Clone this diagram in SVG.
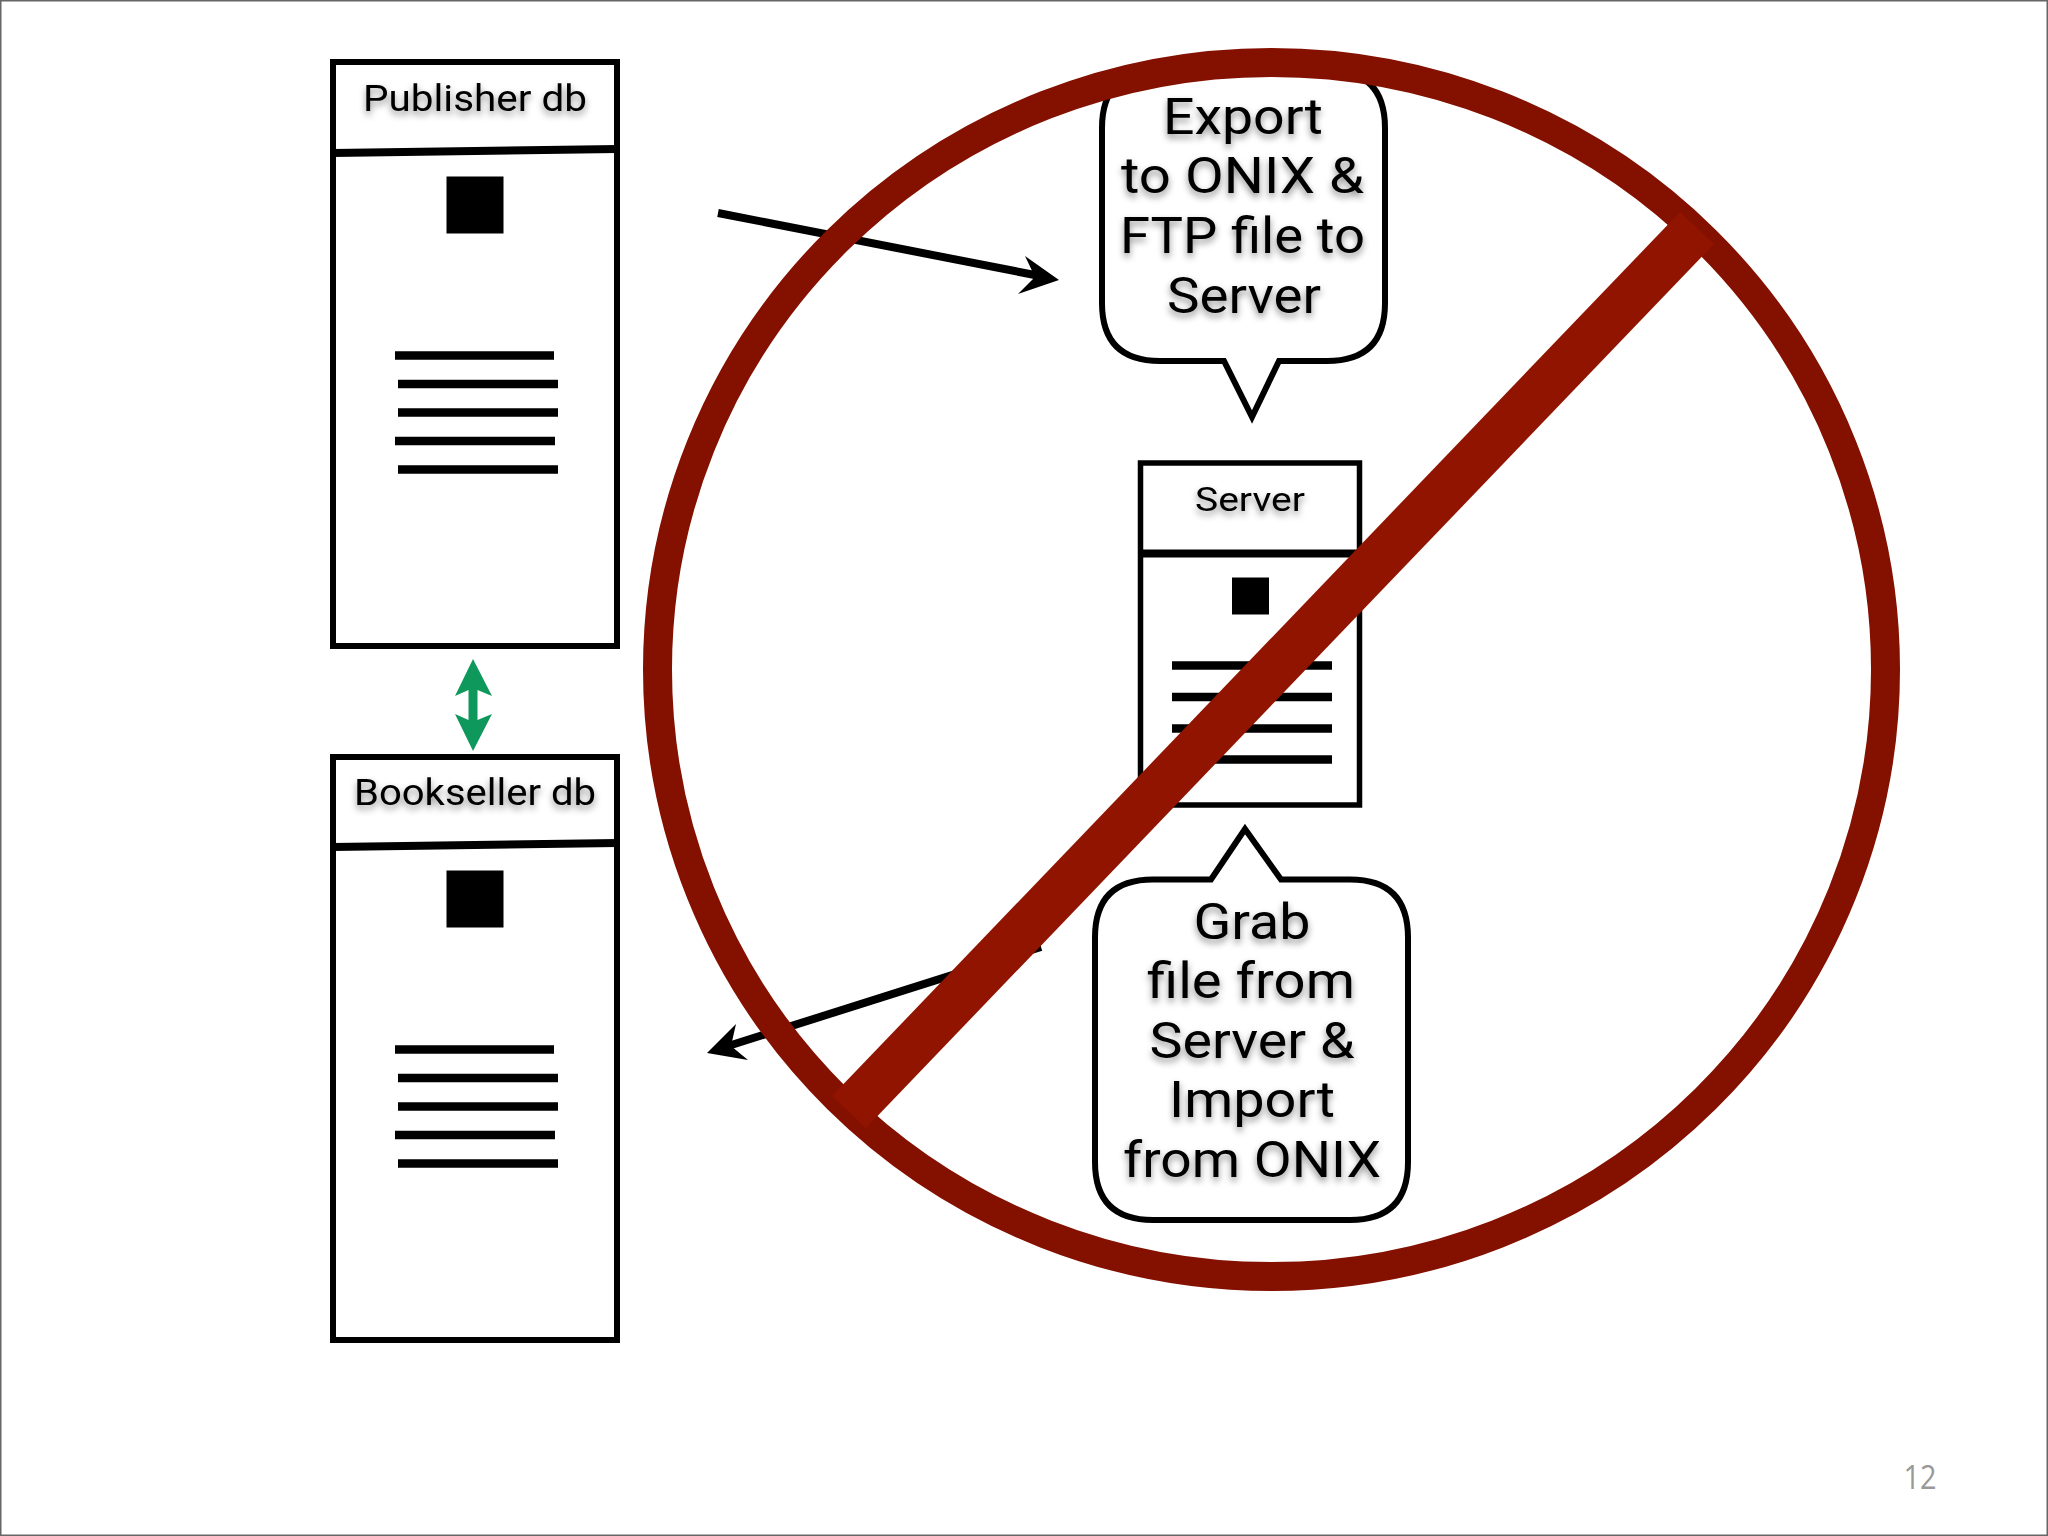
<svg xmlns="http://www.w3.org/2000/svg" width="2048" height="1536" viewBox="0 0 2048 1536">
<defs>
<style>
.box{fill:#fff;stroke:#000;stroke-width:6}
.div{stroke:#000;fill:none;stroke-width:8}
.bar{stroke:#000;stroke-width:8.500;fill:none}
.t{font-family:Roboto,"Open Sans","Liberation Sans",sans-serif;text-anchor:middle;fill:#000;filter:url(#sh)}
.big{font-size:50px}
.sm{font-size:36px}
.bub{fill:#fff;stroke:#000;stroke-width:6;stroke-linejoin:miter}
.arr{stroke:#000;stroke-width:8;fill:none}
</style>
<filter id="sh" x="-20%" y="-40%" width="140%" height="190%"><feDropShadow dx="0" dy="4" stdDeviation="3.500" flood-color="#000" flood-opacity="0.45"/></filter>
</defs>
<rect id="page" x="0.750" y="0.750" width="2046.500" height="1534.500" fill="#fff" stroke="#666" stroke-width="1.500"/>
<g id="publisher-db">
<rect class="box" x="333" y="62" width="284" height="584"/>
<path class="div" d="M333 153L617 149"/>
<rect x="446.500" y="176.500" width="57" height="57"/>
<path class="bar" d="M395 355.500H554M398 384H558M398 412.500H558M395 441H555M398 469.500H558"/>
<text class="t sm" x="475" y="111" textLength="224" lengthAdjust="spacingAndGlyphs">Publisher db</text>
</g>
<g id="bookseller-db">
<rect class="box" x="333" y="757" width="284" height="583"/>
<path class="div" d="M333 847L617 843"/>
<rect x="446.500" y="870.500" width="57" height="57"/>
<path class="bar" d="M395 1049.500H554M398 1078H558M398 1106.500H558M395 1135H555M398 1163.500H558"/>
<text class="t sm" x="475" y="805" textLength="242" lengthAdjust="spacingAndGlyphs">Bookseller db</text>
</g>
<g id="server">
<rect class="box" x="1140.500" y="463" width="219" height="342" style="stroke-width:5.500"/>
<path class="div" d="M1140 553.500H1360"/>
<rect x="1232" y="577.500" width="37" height="37"/>
<path class="bar" d="M1172 665.500H1332M1172 697H1332M1172 728.500H1332M1172 759.500H1332"/>
<text class="t" font-size="34" x="1250" y="511" textLength="110" lengthAdjust="spacingAndGlyphs">Server</text>
</g>
<g id="connectors">
<path class="arr" d="M718 213L1040 276"/>
<path d="M1059 280L1018 294L1035 277L1025 256Z" fill="#000"/>
<path class="arr" d="M1041 947L725 1047"/>
<path d="M707 1053L736 1024L731 1046L748 1060Z" fill="#000"/>
<path d="M473 659L492 696L477.500 690V720L492 714L473 751L455 714L468.500 720V690L455 696Z" fill="#0e985c"/>
</g>
<g id="bubble-export">
<path class="bub" d="M1160 70H1327Q1385 70 1385 128V303Q1385 361 1327 361H1279L1252 417L1224 361H1160Q1102 361 1102 303V128Q1102 70 1160 70Z"/>
<text class="t big" x="1243" y="134" textLength="160" lengthAdjust="spacingAndGlyphs">Export</text>
<text class="t big" x="1242.500" y="193" textLength="243" lengthAdjust="spacingAndGlyphs">to ONIX &amp;</text>
<text class="t big" x="1242.500" y="253" textLength="245" lengthAdjust="spacingAndGlyphs">FTP file to</text>
<text class="t big" x="1244" y="313" textLength="154" lengthAdjust="spacingAndGlyphs">Server</text>
</g>
<g id="bubble-grab">
<path class="bub" d="M1153 879.500H1211L1245 829L1281 879.500H1350Q1408 879.500 1408 937.500V1162Q1408 1220 1350 1220H1153Q1095 1220 1095 1162V937.500Q1095 879.500 1153 879.500Z"/>
<text class="t big" x="1252" y="939" textLength="117" lengthAdjust="spacingAndGlyphs">Grab</text>
<text class="t big" x="1251" y="998" textLength="208" lengthAdjust="spacingAndGlyphs">file from</text>
<text class="t big" x="1252" y="1058" textLength="205" lengthAdjust="spacingAndGlyphs">Server &amp;</text>
<text class="t big" x="1252" y="1117" textLength="166" lengthAdjust="spacingAndGlyphs">Import</text>
<text class="t big" x="1252" y="1177" textLength="258" lengthAdjust="spacingAndGlyphs">from ONIX</text>
</g>
<g id="no-sign">
<ellipse cx="1271.500" cy="669.500" rx="614" ry="607" fill="none" stroke="#841000" stroke-width="29"/>
<path d="M1680 212L1714 244L866 1128L832 1096Z" fill="#911400"/>
</g>
<text id="page-number" x="1920" y="1489" font-family="'Open Sans','Liberation Sans',sans-serif" font-size="32" fill="#999" text-anchor="middle" textLength="33" lengthAdjust="spacingAndGlyphs">12</text>
</svg>
